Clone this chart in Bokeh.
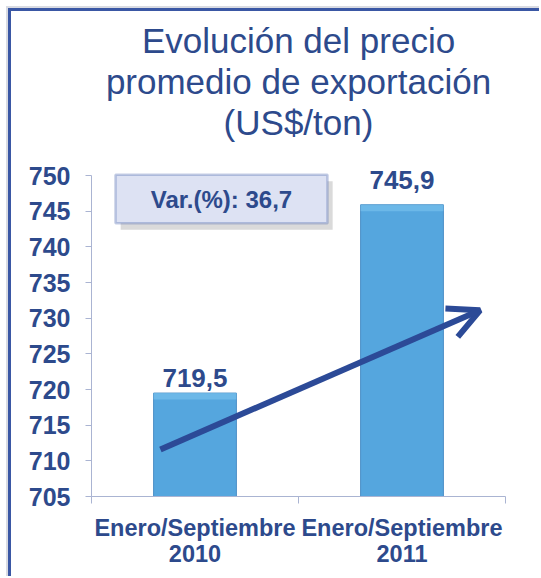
from bokeh.plotting import figure
from bokeh.models import (ColumnDataSource, Range1d, FixedTicker, Title, Label, LabelSet,
                          BoxAnnotation, Arrow, OpenHead)
from bokeh.core.properties import value
from bokeh.embed import file_html
from bokeh.resources import INLINE

# ---- data ----
categories = ["Enero/Septiembre\n2010", "Enero/Septiembre\n2011"]
values = [719.5, 745.9]
value_labels = ["719,5", "745,9"]
y_ticks = [705, 710, 715, 720, 725, 730, 735, 740, 745, 750]
title_lines = ["Evolución del precio", "promedio de exportación", "(US$/ton)"]
var_text = "Var.(%): 36,7"

# ---- styling / annotation positions ----
DARK = "#2d4a8c"
AXIS = "#aab4d2"
FONT = "Liberation Sans"
label_offsets = [6, 16]
arrow_start = (0.333, 711.6)
arrow_end = (1.877, 731.1)
box_lrbt = (0.116, 1.14, 743.3, 750.1)
y_top_pad = 754.77
bevel = 0.9

xs = [i + 0.5 for i in range(len(categories))]
src = ColumnDataSource(dict(x=xs, value=values, label=value_labels, off=label_offsets,
                            bevel_bottom=[v - bevel for v in values]))

p = figure(width=539, height=576, output_backend="svg", toolbar_location=None,
           x_range=Range1d(0, len(categories)), y_range=Range1d(y_ticks[0], y_top_pad),
           min_border_left=91, min_border_right=34, min_border_top=141, min_border_bottom=80,
           title=None)
p.border_fill_alpha = 0
p.styles = {"background-color": "white",
            "box-shadow": "inset 6px 6px 0 white, inset 8px 8px 0 #d9dbe2, inset 11px 11px 0 #3a57a4"}
p.outline_line_color = None
p.grid.visible = False
p.background_fill_color = "white"

# titles: first added sits closest to the frame
for line in reversed(title_lines):
    p.add_layout(Title(text=line, align="center", text_font=FONT, text_font_size="35px",
                       text_font_style="normal", text_color=DARK, text_line_height=0.85,
                       standoff=0), "above")

# y axis
ya = p.yaxis[0]
ya.ticker = FixedTicker(ticks=y_ticks)
ya.bounds = (y_ticks[0], y_ticks[-1])
ya.major_label_text_font = FONT
ya.major_label_text_font_size = "25px"
ya.major_label_text_font_style = "bold"
ya.major_label_text_color = DARK
ya.axis_line_color = AXIS
ya.major_tick_line_color = AXIS
ya.major_tick_out = 6
ya.major_tick_in = 0
ya.minor_tick_line_color = None
ya.major_label_standoff = 15

# x axis: labels at centres, ticks at category boundaries
xa = p.xaxis[0]
xa.ticker = FixedTicker(ticks=xs, minor_ticks=list(range(len(categories) + 1)))
xa.major_label_overrides = {x: c for x, c in zip(xs, categories)}
xa.major_label_text_font = FONT
xa.major_label_text_font_size = "23.5px"
xa.major_label_text_font_style = "bold"
xa.major_label_text_color = DARK
xa.major_label_text_line_height = 1.0
xa.axis_line_color = AXIS
xa.major_tick_line_color = None
xa.major_tick_out = 0
xa.major_tick_in = 0
xa.minor_tick_line_color = AXIS
xa.minor_tick_out = 7
xa.minor_tick_in = 0
xa.major_label_standoff = 11

# bars with a soft bevel on top
p.vbar(x="x", top="value", bottom=y_ticks[0], width=0.4, source=src,
       fill_color="#55a6de", line_color="#4a8fc6", line_width=1)
p.vbar(x="x", top="value", bottom="bevel_bottom", width=0.4, source=src,
       fill_color="#7cc4ef", fill_alpha=0.6, line_color=None)

# value labels
p.add_layout(LabelSet(x="x", y="value", text="label", source=src, y_offset="off",
                      text_align="center", text_baseline="bottom", text_font=value(FONT),
                      text_font_size=value("26px"), text_font_style="bold", text_color=DARK))

# variation box with shadow
l, r, b, tp = box_lrbt
p.add_layout(BoxAnnotation(left=l + 0.025, right=r + 0.025, bottom=b - 0.9, top=tp - 0.9,
                           fill_color="#6b6b6b", fill_alpha=0.25, line_color=None))
p.add_layout(BoxAnnotation(left=l, right=r, bottom=b, top=tp, fill_color="#dde2f3",
                           fill_alpha=1.0, line_color="#3a58a6", line_width=2.5))
p.add_layout(Label(x=(l + r) / 2, y=(b + tp) / 2, text=var_text, text_align="center",
                   text_baseline="middle", text_font=FONT, text_font_size="24px",
                   text_font_style="bold", text_color=DARK))

# trend arrow
p.add_layout(Arrow(x_start=arrow_start[0], y_start=arrow_start[1], x_end=arrow_end[0],
                   y_end=arrow_end[1], line_color="#2c4a97", line_width=6,
                   end=OpenHead(size=31, line_width=6, line_color="#2c4a97")))

open("out.html", "w").write(file_html(p, INLINE))
